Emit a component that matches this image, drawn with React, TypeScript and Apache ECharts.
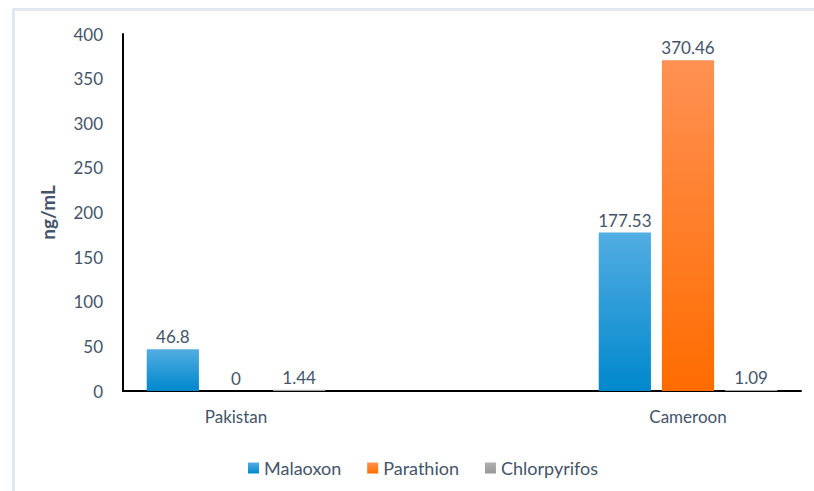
import React, { useEffect, useRef } from "react";
import * as echarts from "echarts";

const categories = ["Pakistan", "", "Cameroon"];
const malaoxon = [46.8, null, 177.53];
const parathion = [0, null, 370.46];
const chlorpyrifos = [1.44, null, 1.09];
const yTicks = { min: 0, max: 400, interval: 50 };

const FONT = "Lato, 'Noto Sans', sans-serif";
const TEXT = "#44546a";

function grad(top: string, bottom: string) {
  return new echarts.graphic.LinearGradient(0, 0, 0, 1, [
    { offset: 0, color: top },
    { offset: 1, color: bottom },
  ]);
}

export default function App() {
  const ref = useRef<HTMLDivElement>(null);
  useEffect(() => {
    if (!ref.current) return;
    const chart = echarts.init(ref.current, undefined, { renderer: "svg" });
    const label = {
      show: true,
      position: "top" as const,
      distance: 4,
      color: TEXT,
      fontFamily: FONT,
      fontSize: 17,
    };
    chart.setOption({
      animation: false,
      backgroundColor: "#ffffff",
      textStyle: { fontFamily: FONT },
      graphic: [
        {
          type: "rect",
          shape: { x: 13.5, y: 9.5, width: 820, height: 520 },
          style: { fill: "none", stroke: "#e2e8f0", lineWidth: 3 },
          silent: true,
        },
      ],
      grid: { left: 123, right: 13, top: 34, bottom: 100, containLabel: false },
      legend: {
        left: 243,
        top: 454,
        itemWidth: 11,
        itemHeight: 11,
        itemGap: 26,
        icon: "rect",
        textStyle: { color: TEXT, fontFamily: FONT, fontSize: 18 },
        data: ["Malaoxon", "Parathion", "Chlorpyrifos"],
      },
      xAxis: {
        type: "category",
        data: categories,
        axisLine: { lineStyle: { color: "#000000", width: 2 } },
        axisTick: { show: false },
        axisLabel: { color: TEXT, fontFamily: FONT, fontSize: 17, margin: 17 },
      },
      yAxis: {
        type: "value",
        min: yTicks.min,
        max: yTicks.max,
        interval: yTicks.interval,
        name: "ng/mL",
        nameLocation: "middle",
        nameGap: 66,
        nameTextStyle: { color: TEXT, fontFamily: FONT, fontSize: 19, fontWeight: "bold" },
        axisLine: { show: true, lineStyle: { color: "#000000", width: 2 } },
        axisTick: { show: false },
        splitLine: { show: false },
        axisLabel: { color: TEXT, fontFamily: FONT, fontSize: 17, margin: 20 },
      },
      series: [
        {
          name: "Malaoxon",
          type: "bar",
          data: malaoxon,
          barCategoryGap: "21%",
          barGap: "21%",
          itemStyle: { color: grad("#52ade2", "#0088cc") },
          label,
        },
        {
          name: "Parathion",
          type: "bar",
          data: parathion,
          itemStyle: { color: grad("#ff9152", "#ff6c00") },
          label,
        },
        {
          name: "Chlorpyrifos",
          type: "bar",
          data: chlorpyrifos,
          itemStyle: { color: grad("#b0b0b0", "#989898") },
          label,
        },
      ],
    });
    return () => chart.dispose();
  }, []);
  return (
    <div
      ref={ref}
      style={{ position: "fixed", left: 0, top: 0, width: 814, height: 491 }}
    />
  );
}
